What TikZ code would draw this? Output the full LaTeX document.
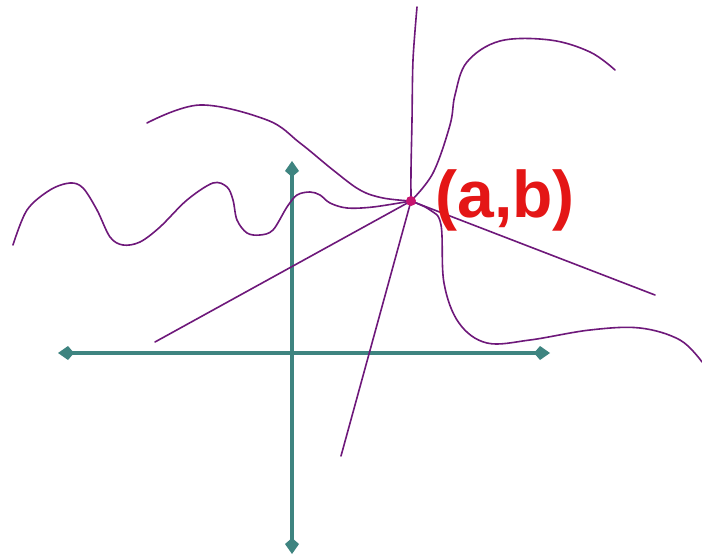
\documentclass[tikz,border=0pt]{standalone}
\usepackage{fontspec}
\setmainfont{Liberation Sans}
\usetikzlibrary{arrows.meta}
\definecolor{axisteal}{RGB}{62,132,128}
\definecolor{curvepurple}{RGB}{110,24,122}
\definecolor{labelred}{RGB}{228,22,22}
\definecolor{dotmag}{RGB}{200,20,110}
\tikzset{
  axisline/.style={draw=axisteal,line width=4.5pt,{Kite[length=16pt,width=14pt,inset=6pt]}-{Kite[length=16pt,width=14pt,inset=6pt]}},
  curveline/.style={draw=curvepurple,line width=1.6pt,line cap=round,line join=round},
  pointlabel/.style={text=labelred,font=\bfseries\fontsize{66}{66}\selectfont,inner sep=0pt}
}
\begin{document}
\begin{tikzpicture}[x=1pt,y=-1pt]
\useasboundingbox[fill=white] (0,0) rectangle (702,556);
% axes
\coordinate (xl) at (58,353);
\coordinate (xr) at (550,353);
\coordinate (yt) at (292,161);
\coordinate (yb) at (292,554);
\draw[axisline] (xl) -- (xr);
\draw[axisline] (yb) -- (yt);
% point
\coordinate (P) at (411,201);
\coordinate (topend) at (417,7);
\coordinate (lowend) at (341,456);
\coordinate (llend) at (155,342);
\coordinate (rend) at (655,295);
% near-vertical curve
\draw[curveline] plot[smooth] coordinates {(topend) (413,60) (412,120) (411,170) (P)};
\draw[curveline] (P) -- (lowend);
% lines
\draw[curveline] (llend) -- (P);
\draw[curveline] (P) -- (rend);
% upper right curve
\draw[curveline] plot[smooth,tension=0.6] coordinates {(P) (433,173) (450,125) (455,95) (467,62) (500,41) (550,40) (590,52) (615,70)};
% lower right curve
\draw[curveline] plot[smooth,tension=0.6] coordinates {(P) (430,210) (441,225) (444,283) (459,323) (487,343) (530,340) (590,330) (640,328) (680,340) (702,362)};
% upper left curve
\draw[curveline] plot[smooth,tension=0.6] coordinates {(147,123) (200,105) (267,120) (300,143) (333,170) (360,190) (383,198) (P)};
% wavy curve
\draw[curveline] plot[smooth,tension=0.55] coordinates {(13,245) (27,210) (50,190) (70,183) (83,188) (97,210) (110,237) (123,245) (140,242) (160,227) (187,200) (213,183) (227,187) (233,200) (237,220) (247,233) (260,235) (273,230) (287,207) (297,195) (310,192) (320,195) (330,203) (347,208) (373,207) (P)};
% dot
\fill[dotmag] (P) circle (5pt);
% label
\node[pointlabel] (lab) at (505,200) {(a,b)};
\end{tikzpicture}
\end{document}
